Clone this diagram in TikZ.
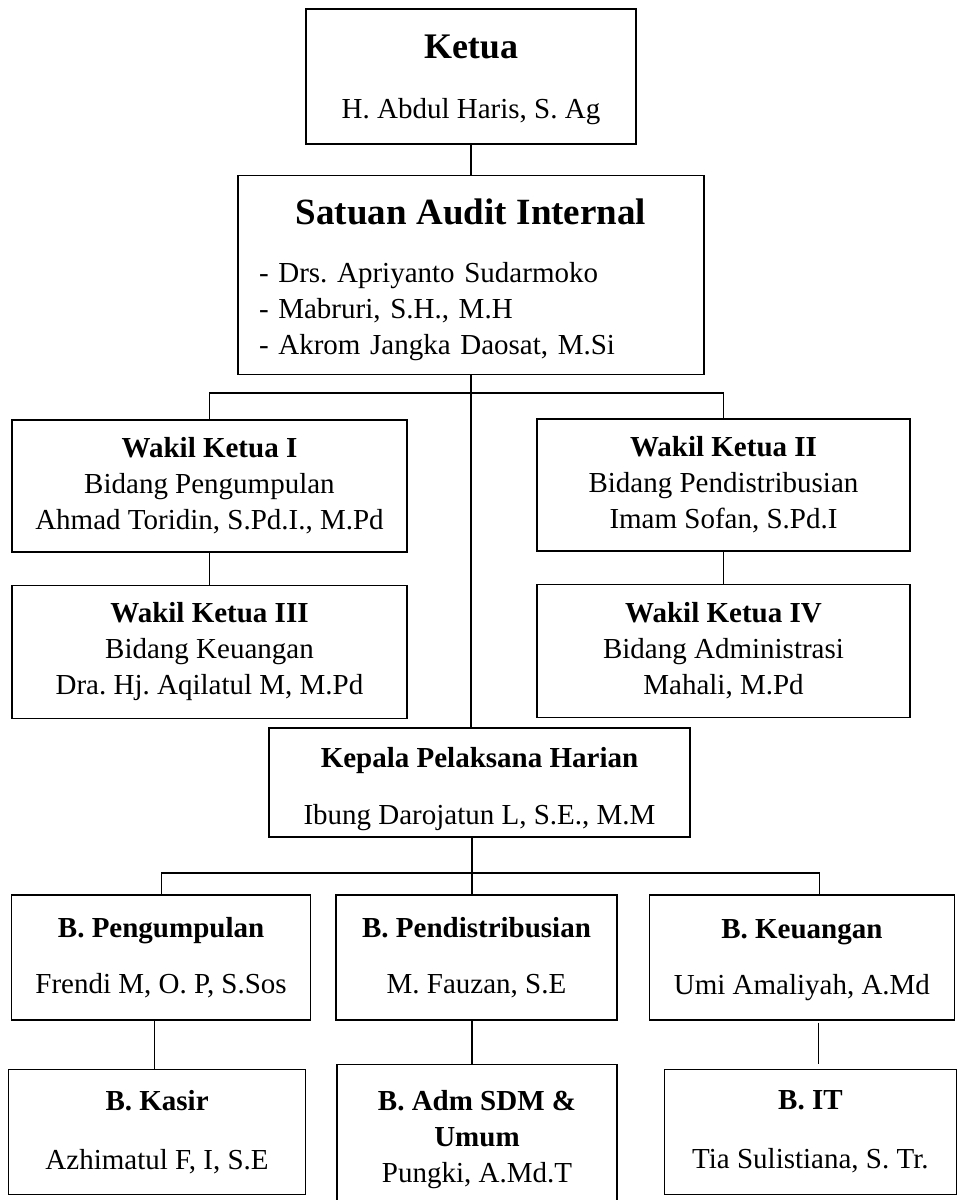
\documentclass[tikz,border=0pt]{standalone}
\usepackage{fontspec}
\setmainfont{Liberation Serif}
\usetikzlibrary{positioning}
\frenchspacing

\begin{document}
\begin{tikzpicture}[x=1pt, y=1pt, node distance=32pt,
	kotak/.style={rectangle, draw, line width=1.4pt, align=center, inner sep=0pt, font=\fontsize{29}{36}\selectfont},
	garis/.style={line width=1.2pt}]
	\useasboundingbox (0,0) rectangle (960,1200);
	\node[kotak, minimum width=330pt, minimum height=135pt] (ketua) at (471,1123.5) {\rule{0pt}{30pt}{\fontsize{36}{40}\selectfont\bfseries Ketua}\\[24pt]H. Abdul Haris, S. Ag};
	\node[kotak, below=30pt of ketua, align=left, text width=424pt, inner xsep=21pt, minimum height=199pt] (sai) {\rule{0pt}{35pt}\makebox[424pt]{\fontsize{37}{40}\selectfont\bfseries Satuan Audit Internal}\\[22pt]- Drs. Apriyanto Sudarmoko\\- Mabruri, S.H., M.H\\- Akrom Jangka Daosat, M.Si};
	\node[kotak, minimum width=395pt, minimum height=132pt] (wk1) at (209.5,714) {{\bfseries Wakil Ketua I}\\Bidang Pengumpulan\\Ahmad Toridin, S.Pd.I., M.Pd};
	\node[kotak, minimum width=373pt, minimum height=132pt] (wk2) at (723.5,715) {{\bfseries Wakil Ketua II}\\Bidang Pendistribusian\\Imam Sofan, S.Pd.I};
	\node[kotak, below=32pt of wk1, minimum width=395pt, minimum height=133pt] (wk3) {{\bfseries Wakil Ketua III}\\Bidang Keuangan\\Dra. Hj. Aqilatul M, M.Pd};
	\node[kotak, below=32pt of wk2, minimum width=373pt, minimum height=133pt] (wk4) {{\bfseries Wakil Ketua IV}\\Bidang Administrasi\\Mahali, M.Pd};
	\node[kotak, minimum width=421pt, minimum height=109pt] (kepala) at (479.5,417.5) {\rule{0pt}{34pt}{\bfseries Kepala Pelaksana Harian}\\[21pt]Ibung Darojatun L, S.E., M.M};
	\node[kotak, minimum width=281pt, minimum height=125pt] (bd) at (476.5,242.5) {{\bfseries B. Pendistribusian}\\[20pt]M. Fauzan, S.E};
	\node[kotak, left=24pt of bd, minimum width=299pt, minimum height=125pt] (bp) {{\bfseries B. Pengumpulan}\\[20pt]Frendi M, O. P, S.Sos};
	\node[kotak, right=31pt of bd, minimum width=305pt, minimum height=125pt] (bk) {\rule{0pt}{24pt}{\bfseries B. Keuangan}\\[20pt]Umi Amaliyah, A.Md};
	\node[kotak, below=48pt of bp, xshift=-4pt, minimum width=297pt, minimum height=125pt] (kasir) {{\bfseries B. Kasir}\\[23pt]Azhimatul F, I, S.E};
	\node[kotak, below=43pt of bd, xshift=0.5pt, minimum width=280pt, minimum height=144pt] (adm) {\rule{0pt}{26pt}{\bfseries B. Adm SDM \&}\\{\bfseries Umum}\\Pungki, A.Md.T};
	\node[kotak, below=48pt of bk, xshift=8.5pt, minimum width=292pt, minimum height=125pt] (it) {{\bfseries B. IT}\\[23pt]Tia Sulistiana, S. Tr.};

	\coordinate (bus1) at (472,807);
	\coordinate (bus2) at (472,327);
	\draw[garis] (sai.north |- ketua.south) -- (sai.north);
	\draw[garis] (sai.south) -- (sai.south |- kepala.north);
	\draw[garis] (wk1.north) |- (bus1) -| (wk2.north);
	\draw[garis] (wk1) -- (wk3);
	\draw[garis] (wk2) -- (wk4);
	\draw[garis] (kepala.south -| bus2) -- (bus2);
	\draw[garis] (bp.north) |- (bus2) -| ([xshift=17.5pt]bk.north);
	\draw[garis] (bus2) -- (bus2 |- bd.north);
	\draw[garis] ([xshift=-6.5pt]bp.south) -- ([xshift=-6.5pt]bp.south |- kasir.north);
	\draw[garis] (bd.south -| bus2) -- (bus2 |- adm.north);
	\draw[garis, shorten <=2pt, shorten >=5pt] ([xshift=16.5pt]bk.south) -- ([xshift=16.5pt]bk.south |- it.north);
\end{tikzpicture}
\end{document}
